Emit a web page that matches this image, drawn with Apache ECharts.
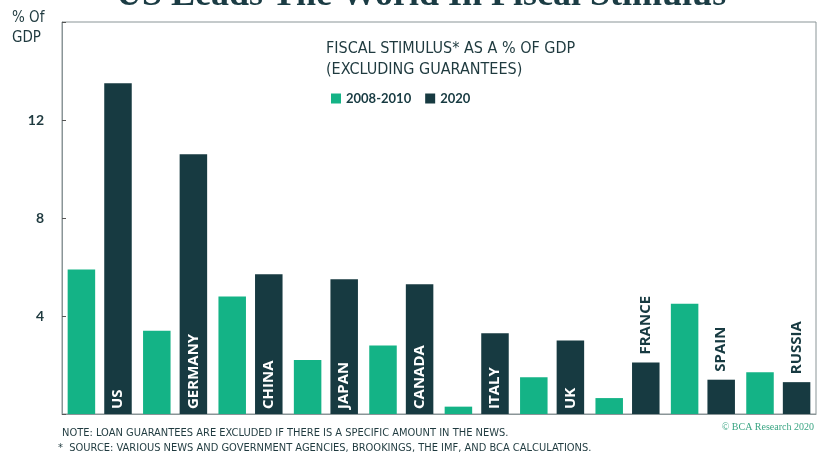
<!DOCTYPE html>
<html lang="en">
<head>
    <meta charset="UTF-8">
    <title>Fiscal stimulus</title>
    <script src="https://cdn.jsdelivr.net/npm/echarts@6/dist/echarts.min.js"></script>
</head>
<body style="margin:0;background:#fff">
    <div id="main" style="width:820px;height:454px;"></div>
    <script>
        var countries = ['US', 'GERMANY', 'CHINA', 'JAPAN', 'CANADA', 'ITALY', 'UK', 'FRANCE', 'SPAIN', 'RUSSIA'];
        var gfc = [5.9, 3.4, 4.8, 2.2, 2.8, 0.3, 1.5, 0.65, 4.5, 1.7];
        var covid = [13.5, 10.6, 5.7, 5.5, 5.3, 3.3, 3.0, 2.1, 1.4, 1.3];
        var labelOutside = ['FRANCE', 'SPAIN', 'RUSSIA'];
        var yTicks = [4, 8, 12];

        var green = '#14b386', dark = '#173a41';
        var narrow = '"Liberation Sans Narrow", "DejaVu Sans Condensed", "Roboto", sans-serif';

        var chart = echarts.init(document.getElementById('main'));

        var covidData = covid.map(function (v, i) {
            var out = labelOutside.indexOf(countries[i]) >= 0;
            return {
                value: v,
                label: out ? { position: 'top', color: dark, distance: 8 } : { position: 'insideBottom', color: '#fff', distance: 5 }
            };
        });

        var option = {
            animation: false,
            textStyle: { fontFamily: 'Lato, sans-serif' },
            grid: { left: 62, right: 4, top: 22, bottom: 40, show: true, borderColor: '#8a9597', borderWidth: 1 },
            legend: {
                left: 326, top: 87, itemWidth: 10, itemHeight: 10, itemGap: 14,
                icon: 'rect',
                textStyle: { color: dark, fontWeight: 'bold', fontSize: 13, fontFamily: 'Lato, sans-serif' },
                data: ['2008-2010', '2020']
            },
            xAxis: {
                type: 'category', data: countries,
                axisLine: { lineStyle: { color: '#8a9597' } },
                axisTick: { show: false }, axisLabel: { show: false }
            },
            yAxis: {
                type: 'value', min: 0, max: 16, interval: 4,
                splitLine: { show: false },
                axisLine: { show: true, lineStyle: { color: '#8a9597' } },
                axisTick: { show: true, inside: true, length: 4, lineStyle: { color: '#555' } },
                axisLabel: {
                    color: '#1f3a3f', fontWeight: 'bold', fontSize: 14, margin: 18,
                    formatter: function (v) { return yTicks.indexOf(v) >= 0 ? v : ''; }
                }
            },
            series: [
                { name: '2008-2010', type: 'bar', data: gfc, itemStyle: { color: green }, barGap: '33%', barCategoryGap: '15%' },
                {
                    name: '2020', type: 'bar', data: covidData, itemStyle: { color: dark },
                    label: {
                        show: true, rotate: 90, align: 'left', verticalAlign: 'middle',
                        fontWeight: 'bold', fontSize: 15, fontFamily: '"Open Sans", sans-serif',
                        formatter: function (p) { return p.name; }
                    }
                }
            ],
            graphic: [
                { type: 'text', left: 116, top: -22, style: { text: 'US Leads The World In Fiscal Stimulus', font: 'bold 36px "Liberation Serif", serif', fill: '#1b3c44' } },
                { type: 'text', left: 12, top: 8, style: { text: '% Of\nGDP', font: '15px ' + narrow, fill: '#1f3a3f', lineHeight: 20 } },
                { type: 'text', left: 326, top: 38, style: { text: 'FISCAL STIMULUS* AS A % OF GDP\n(EXCLUDING GUARANTEES)', font: '16px ' + narrow, fill: '#1f3a3f', lineHeight: 21 } },
                { type: 'text', left: 62, top: 428, style: { text: 'NOTE: LOAN GUARANTEES ARE EXCLUDED IF THERE IS A SPECIFIC AMOUNT IN THE NEWS.', font: '11px ' + narrow, fill: '#1f3a3f' } },
                { type: 'text', left: 58, top: 443, style: { text: '*  SOURCE: VARIOUS NEWS AND GOVERNMENT AGENCIES, BROOKINGS, THE IMF, AND BCA CALCULATIONS.', font: '11px ' + narrow, fill: '#1f3a3f' } },
                { type: 'text', right: 6, top: 422, style: { text: '\u00a9 BCA Research 2020', font: '10px "Liberation Serif", serif', fill: '#3aa583' } }
            ]
        };
        chart.setOption(option);
    </script>
</body>
</html>
